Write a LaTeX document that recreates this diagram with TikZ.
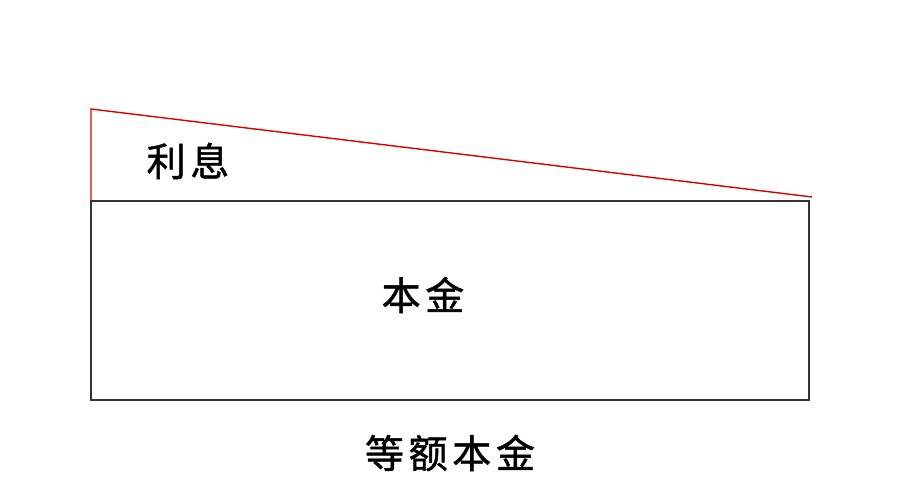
\documentclass[tikz,border=0pt]{standalone}
\usepackage{fontspec}
\newfontfamily\cjk[LetterSpace=12,FakeBold=1.2]{Noto Sans CJK SC}

\begin{document}
\begin{tikzpicture}[x=1pt,y=-1pt,
    lbl/.style={font=\cjk\fontsize{39}{46}\selectfont,inner sep=0pt}]
    \useasboundingbox (0,0) rectangle (900,500);
    %principal block
    \coordinate (tl) at (91,201);
    \coordinate (br) at (809,400);
    \draw[line width=2pt,draw=black!80] (tl) rectangle (br);
    %interest wedge
    \coordinate (top) at (91,109);
    \coordinate (tip) at (812,197);
    \draw[line width=1.4pt,red!85!black] (tl) -- (top) -- (tip);
    %labels
    \node[lbl] (lixi) at (188,161) {利息};
    \node[lbl] (benjin) at (423,295) {本金};
    \node[lbl] (title) at (450,453) {等额本金};
\end{tikzpicture}
\end{document}
